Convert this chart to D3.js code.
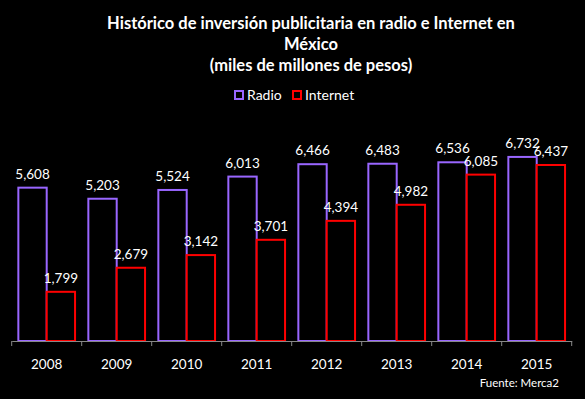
<!DOCTYPE html>
<html>
<head>
<meta charset="utf-8">
<script src="https://cdn.jsdelivr.net/npm/d3@7"></script>
<style>
  body { margin: 0; background: #000; }
  svg { display: block; }
</style>
</head>
<body>
<script>
const years = ["2008", "2009", "2010", "2011", "2012", "2013", "2014", "2015"];
const radio = [5608, 5203, 5524, 6013, 6466, 6483, 6536, 6732];
const internet = [1799, 2679, 3142, 3701, 4394, 4982, 6085, 6437];
const seriesNames = ["Radio", "Internet"];
const titleLines = [
  "Histórico de inversión publicitaria en radio e Internet en",
  "México",
  "(miles de millones de pesos)"
];

const width = 585,
  height = 399,
  font = "Lato, 'Open Sans', sans-serif",
  colors = ["#9966ff", "#ff0000"];

const svg = d3
  .select("body")
  .append("svg")
  .attr("width", width)
  .attr("height", height);

svg.append("rect").attr("width", width).attr("height", height).attr("fill", "#000");

const x = d3.scaleBand().domain(years).range([11.7, 571.7]).paddingInner(0.19).paddingOuter(0.095);
const x1 = d3.scaleBand().domain(seriesNames).range([0, x.bandwidth()]);
const y = d3.scaleLinear().domain([0, 7000]).range([341, 149.6]);

const rows = years.map((yr, i) => ({ year: yr, values: [radio[i], internet[i]] }));

// title
svg
  .append("g")
  .selectAll("text")
  .data(titleLines)
  .join("text")
  .attr("x", 311)
  .attr("y", (d, i) => 28.5 + i * 21.2)
  .attr("text-anchor", "middle")
  .attr("fill", "#fff")
  .attr("font-family", font)
  .attr("font-weight", "bold")
  .attr("font-size", 16.5)
  .text((d) => d);

// legend
const legend = svg
  .append("g")
  .selectAll("g")
  .data(seriesNames)
  .join("g")
  .attr("transform", (d, i) => `translate(${[234, 292][i]},90)`);
legend
  .append("rect")
  .attr("x", 1)
  .attr("y", 1)
  .attr("width", 8)
  .attr("height", 8)
  .attr("fill", "none")
  .attr("stroke", (d, i) => colors[i])
  .attr("stroke-width", 2);
legend
  .append("text")
  .attr("x", 13)
  .attr("y", 10)
  .attr("fill", "#fff")
  .attr("font-family", font)
  .attr("font-size", 14)
  .text((d) => d);

// bars
const groups = svg
  .append("g")
  .selectAll("g")
  .data(rows)
  .join("g")
  .attr("transform", (d) => `translate(${x(d.year)},0)`);

groups
  .selectAll("rect")
  .data((d) => d.values.map((v, i) => ({ name: seriesNames[i], v, i })))
  .join("rect")
  .attr("x", (d) => x1(d.name))
  .attr("y", (d) => y(d.v))
  .attr("width", x1.bandwidth())
  .attr("height", (d) => y(0) - y(d.v))
  .attr("fill", "#000")
  .attr("stroke", (d) => colors[d.i])
  .attr("stroke-width", 2);

groups
  .selectAll("text")
  .data((d) => d.values.map((v, i) => ({ name: seriesNames[i], v, i })))
  .join("text")
  .attr("x", (d) => x1(d.name) + x1.bandwidth() / 2)
  .attr("y", (d) => y(d.v) - 9)
  .attr("text-anchor", "middle")
  .attr("fill", "#fff")
  .attr("font-family", font)
  .attr("font-size", 13.5)
  .text((d) => d3.format(",")(d.v));

// x axis
const axis = svg
  .append("g")
  .attr("transform", `translate(0,${y(0)})`)
  .call(d3.axisBottom(x).tickSize(0).tickPadding(18));
axis.select(".domain").attr("stroke", "#888").attr("stroke-width", 1);
axis.selectAll(".tick text")
  .attr("fill", "#fff")
  .attr("font-family", font)
  .attr("font-size", 13.5);

// tick marks between categories
const edges = years.map((yr) => x(yr) - (x.step() * x.paddingInner()) / 2).concat([571.7]);
axis
  .selectAll(".sep")
  .data(edges)
  .join("line")
  .attr("x1", (d) => d)
  .attr("x2", (d) => d)
  .attr("y1", 0)
  .attr("y2", 5)
  .attr("stroke", "#888");

// source
svg
  .append("text")
  .attr("x", 559)
  .attr("y", 387)
  .attr("text-anchor", "end")
  .attr("fill", "#fff")
  .attr("font-family", font)
  .attr("font-size", 11.5)
  .text("Fuente: Merca2");
</script>
</body>
</html>
